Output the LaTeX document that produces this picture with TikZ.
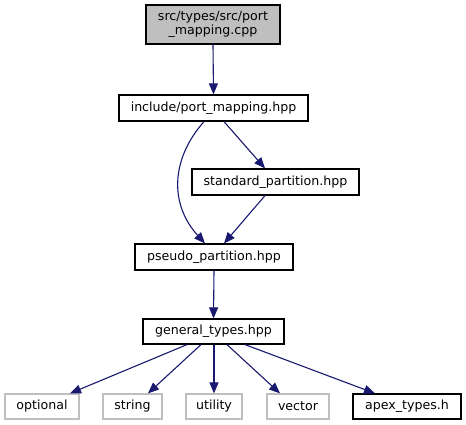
\documentclass[tikz,border=0pt]{standalone}
\usepackage{fontspec}
\setmainfont{DejaVu Sans}
\usetikzlibrary{arrows.meta}
\definecolor{edgecol}{HTML}{191970}
\definecolor{topfill}{HTML}{BFBFBF}
\definecolor{extcol}{HTML}{BFBFBF}
\tikzset{
  box/.style={draw=black, line width=1.2pt, fill=white, inner sep=0pt, font=\fontsize{12.6}{14}\selectfont, anchor=center},
  topbox/.style={box, fill=topfill, align=center},
  extbox/.style={box, draw=extcol},
  dep/.style={draw=edgecol, line width=1.1pt, -{Triangle[length=11pt,width=9pt,fill=edgecol]}}
}
\begin{document}
\begin{tikzpicture}[x=1pt,y=-1pt]
\useasboundingbox (0,0) rectangle (466,425);
\node[topbox, minimum width=134, minimum height=39] (top) at (213,24.5) {src/types/src/port\\\_mapping.cpp};
\node[box, minimum width=189, minimum height=26] (inc) at (213.5,108) {include/port\_mapping.hpp};
\node[box, minimum width=167, minimum height=26] (std) at (275.5,182) {standard\_partition.hpp};
\node[box, minimum width=158, minimum height=26] (pse) at (214,257) {pseudo\_partition.hpp};
\node[box, minimum width=141, minimum height=25] (gen) at (213.5,331.5) {general\_types.hpp};
\node[extbox, minimum width=74, minimum height=25] (opt) at (42,406.5) {optional};
\node[extbox, minimum width=59, minimum height=25] (str) at (132.5,406.5) {string};
\node[extbox, minimum width=56, minimum height=25] (uti) at (214,406.5) {utility};
\node[extbox, minimum width=62, minimum height=25] (vec) at (298,406.5) {vector};
\node[box, minimum width=108, minimum height=25] (apx) at (407,406.5) {apex\_types.h};

\draw[dep] (top.south) -- (inc.north);
\draw[dep] ([xshift=-9.5]inc.south) .. controls (170,160) and (170,205) .. ([xshift=-9]pse.north);
\draw[dep] ([xshift=10.5]inc.south) -- ([xshift=-10.5]std.north);
\draw[dep] ([xshift=-10.5]std.south) -- ([xshift=10]pse.north);
\draw[dep] (pse.south) -- (gen.south |- gen.north);
\draw[dep] ([xshift=-26.5]gen.south) -- ([xshift=28]opt.north);
\draw[dep] ([xshift=-12.5]gen.south) -- ([xshift=15.5]str.north);
\draw[dep] ([xshift=0.5]gen.south) -- (uti.north);
\draw[dep] ([xshift=13.5]gen.south) -- ([xshift=-18]vec.north);
\draw[dep] ([xshift=31.5]gen.south) -- ([xshift=-32]apx.north);
\end{tikzpicture}
\end{document}
